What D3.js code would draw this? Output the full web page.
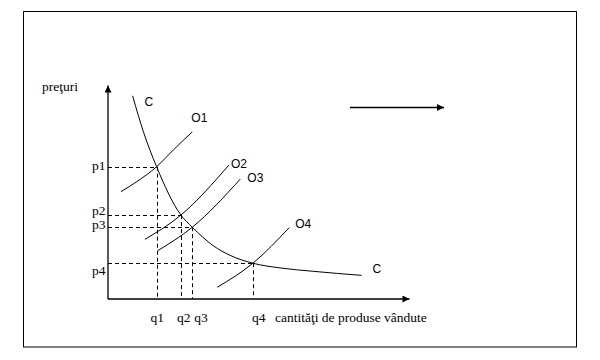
<!DOCTYPE html>
<html>
<head>
<meta charset="utf-8">
<script src="https://cdn.jsdelivr.net/npm/d3@7"></script>
<style>
  html, body { margin: 0; padding: 0; background: #fff; }
  svg { display: block; }
  .serif { font-family: "Liberation Serif", "Times New Roman", serif; font-size: 13.5px; fill: #000; }
  .sans { font-family: "Liberation Sans", Arial, sans-serif; font-size: 12px; fill: #000; }
</style>
</head>
<body>
<script>
// ---- data (quantity 0..100, price 0..100) ----
const priceLabels = ["p1", "p2", "p3", "p4"];
const quantityLabels = ["q1", "q2", "q3", "q4"];
const supplyLabels = ["O1", "O2", "O3", "O4"];
const demandLabel = "C";
const yAxisTitle = "preţuri";
const xAxisTitle = "cantităţi de produse vândute";

// equilibrium points
const eqQ = [16.2, 24.3, 28.1, 48.3];
const eqP = [62.1, 39.4, 33.7, 16.8];

// demand curve C
const demandQ = [8.2, 11.8, 16.2, 24.3, 28.1, 35.1, 40.7, 48.3, 57.3, 68.4, 84.5];
const demandP = [95.4, 78.5, 62.1, 39.4, 33.7, 25.0, 20.5, 16.8, 14.6, 13.0, 11.1];

// supply curves O1..O4
const supplyQ = [
  [4.3, 9.6, 16.2, 21.8, 28.1],
  [12.3, 24.3, 40.3],
  [16.6, 28.1, 44.1],
  [36.4, 48.3, 60.4]
];
const supplyP = [
  [50.4, 55.1, 62.1, 70.0, 78.5],
  [28.0, 39.4, 62.9],
  [22.7, 33.7, 56.3],
  [5.5, 16.8, 33.5]
];

// ---- layout ----
const W = 600, H = 360;
const svg = d3.select("body").append("svg").attr("width", W).attr("height", H);

svg.append("rect").attr("x", 23.5).attr("y", 11.5).attr("width", 553).attr("height", 335.5)
  .attr("fill", "none").attr("stroke", "#000").attr("stroke-width", 1);

const x = d3.scaleLinear().domain([0, 100]).range([108, 408]);
const y = d3.scaleLinear().domain([0, 100]).range([299, 86]);

const defs = svg.append("defs");
defs.append("marker").attr("id", "arr").attr("viewBox", "0 0 10 10")
  .attr("refX", 10).attr("refY", 5).attr("markerWidth", 8).attr("markerHeight", 7)
  .attr("markerUnits", "userSpaceOnUse").attr("orient", "auto")
  .append("path").attr("d", "M0,0 L10,5 L0,10 Z").attr("fill", "#000");

// axes
svg.append("line").attr("x1", x(0)).attr("y1", y(0)).attr("x2", x(0)).attr("y2", y(0) - 213.5)
  .attr("stroke", "#000").attr("stroke-width", 1.3).attr("marker-end", "url(#arr)");
svg.append("line").attr("x1", x(0)).attr("y1", y(0)).attr("x2", x(100) + 1.5).attr("y2", y(0))
  .attr("stroke", "#000").attr("stroke-width", 1.3).attr("marker-end", "url(#arr)");

// decorative arrow
svg.append("line").attr("x1", 350).attr("y1", 107.5).attr("x2", 444).attr("y2", 107.5)
  .attr("stroke", "#000").attr("stroke-width", 1.3).attr("marker-end", "url(#arr)");

// dashed guide lines
eqQ.forEach((q, i) => {
  svg.append("line").attr("x1", x(0)).attr("x2", x(q))
    .attr("y1", Math.round(y(eqP[i])) + 0.5).attr("y2", Math.round(y(eqP[i])) + 0.5)
    .attr("stroke", "#000").attr("stroke-dasharray", "4,3");
  svg.append("line").attr("x1", Math.round(x(q)) + 0.5).attr("x2", Math.round(x(q)) + 0.5)
    .attr("y1", y(eqP[i])).attr("y2", y(0))
    .attr("stroke", "#000").attr("stroke-dasharray", "4,3");
});

const line = d3.line().x(d => x(d[0])).y(d => y(d[1])).curve(d3.curveMonotoneX);

// demand curve
svg.append("path").attr("d", line(d3.zip(demandQ, demandP)))
  .attr("fill", "none").attr("stroke", "#000").attr("stroke-width", 1);

// supply curves
supplyQ.forEach((qs, i) => {
  svg.append("path").attr("d", line(d3.zip(qs, supplyP[i])))
    .attr("fill", "none").attr("stroke", "#000").attr("stroke-width", 1);
});

// labels
const pOff = [3, -0.5, 2, 12];
priceLabels.forEach((t, i) => {
  svg.append("text").attr("class", "serif").attr("x", 92).attr("y", y(eqP[i]) + pOff[i])
    .text(t);
});
const qOff = [-6, -4, 2, -1];
quantityLabels.forEach((t, i) => {
  svg.append("text").attr("class", "serif").attr("x", x(eqQ[i]) + qOff[i]).attr("y", 322)
    .text(t);
});
const oDx = [-1, 2, 7, 6], oDy = [-10, 2.5, 3, 0];
supplyLabels.forEach((t, i) => {
  const qs = supplyQ[i], ps = supplyP[i];
  svg.append("text").attr("class", "sans")
    .attr("x", x(qs[qs.length - 1]) + oDx[i]).attr("y", y(ps[ps.length - 1]) + oDy[i])
    .text(t);
});
svg.append("text").attr("class", "sans").attr("x", x(demandQ[0]) + 12).attr("y", y(demandP[0]) + 10)
  .text(demandLabel);
svg.append("text").attr("class", "sans").attr("x", x(demandQ[demandQ.length - 1]) + 11)
  .attr("y", y(demandP[demandP.length - 1]) - 2).text(demandLabel);

svg.append("text").attr("class", "serif").attr("x", 42).attr("y", 91).text(yAxisTitle);
svg.append("text").attr("class", "serif").attr("x", 275).attr("y", 322).text(xAxisTitle);
</script>
</body>
</html>
